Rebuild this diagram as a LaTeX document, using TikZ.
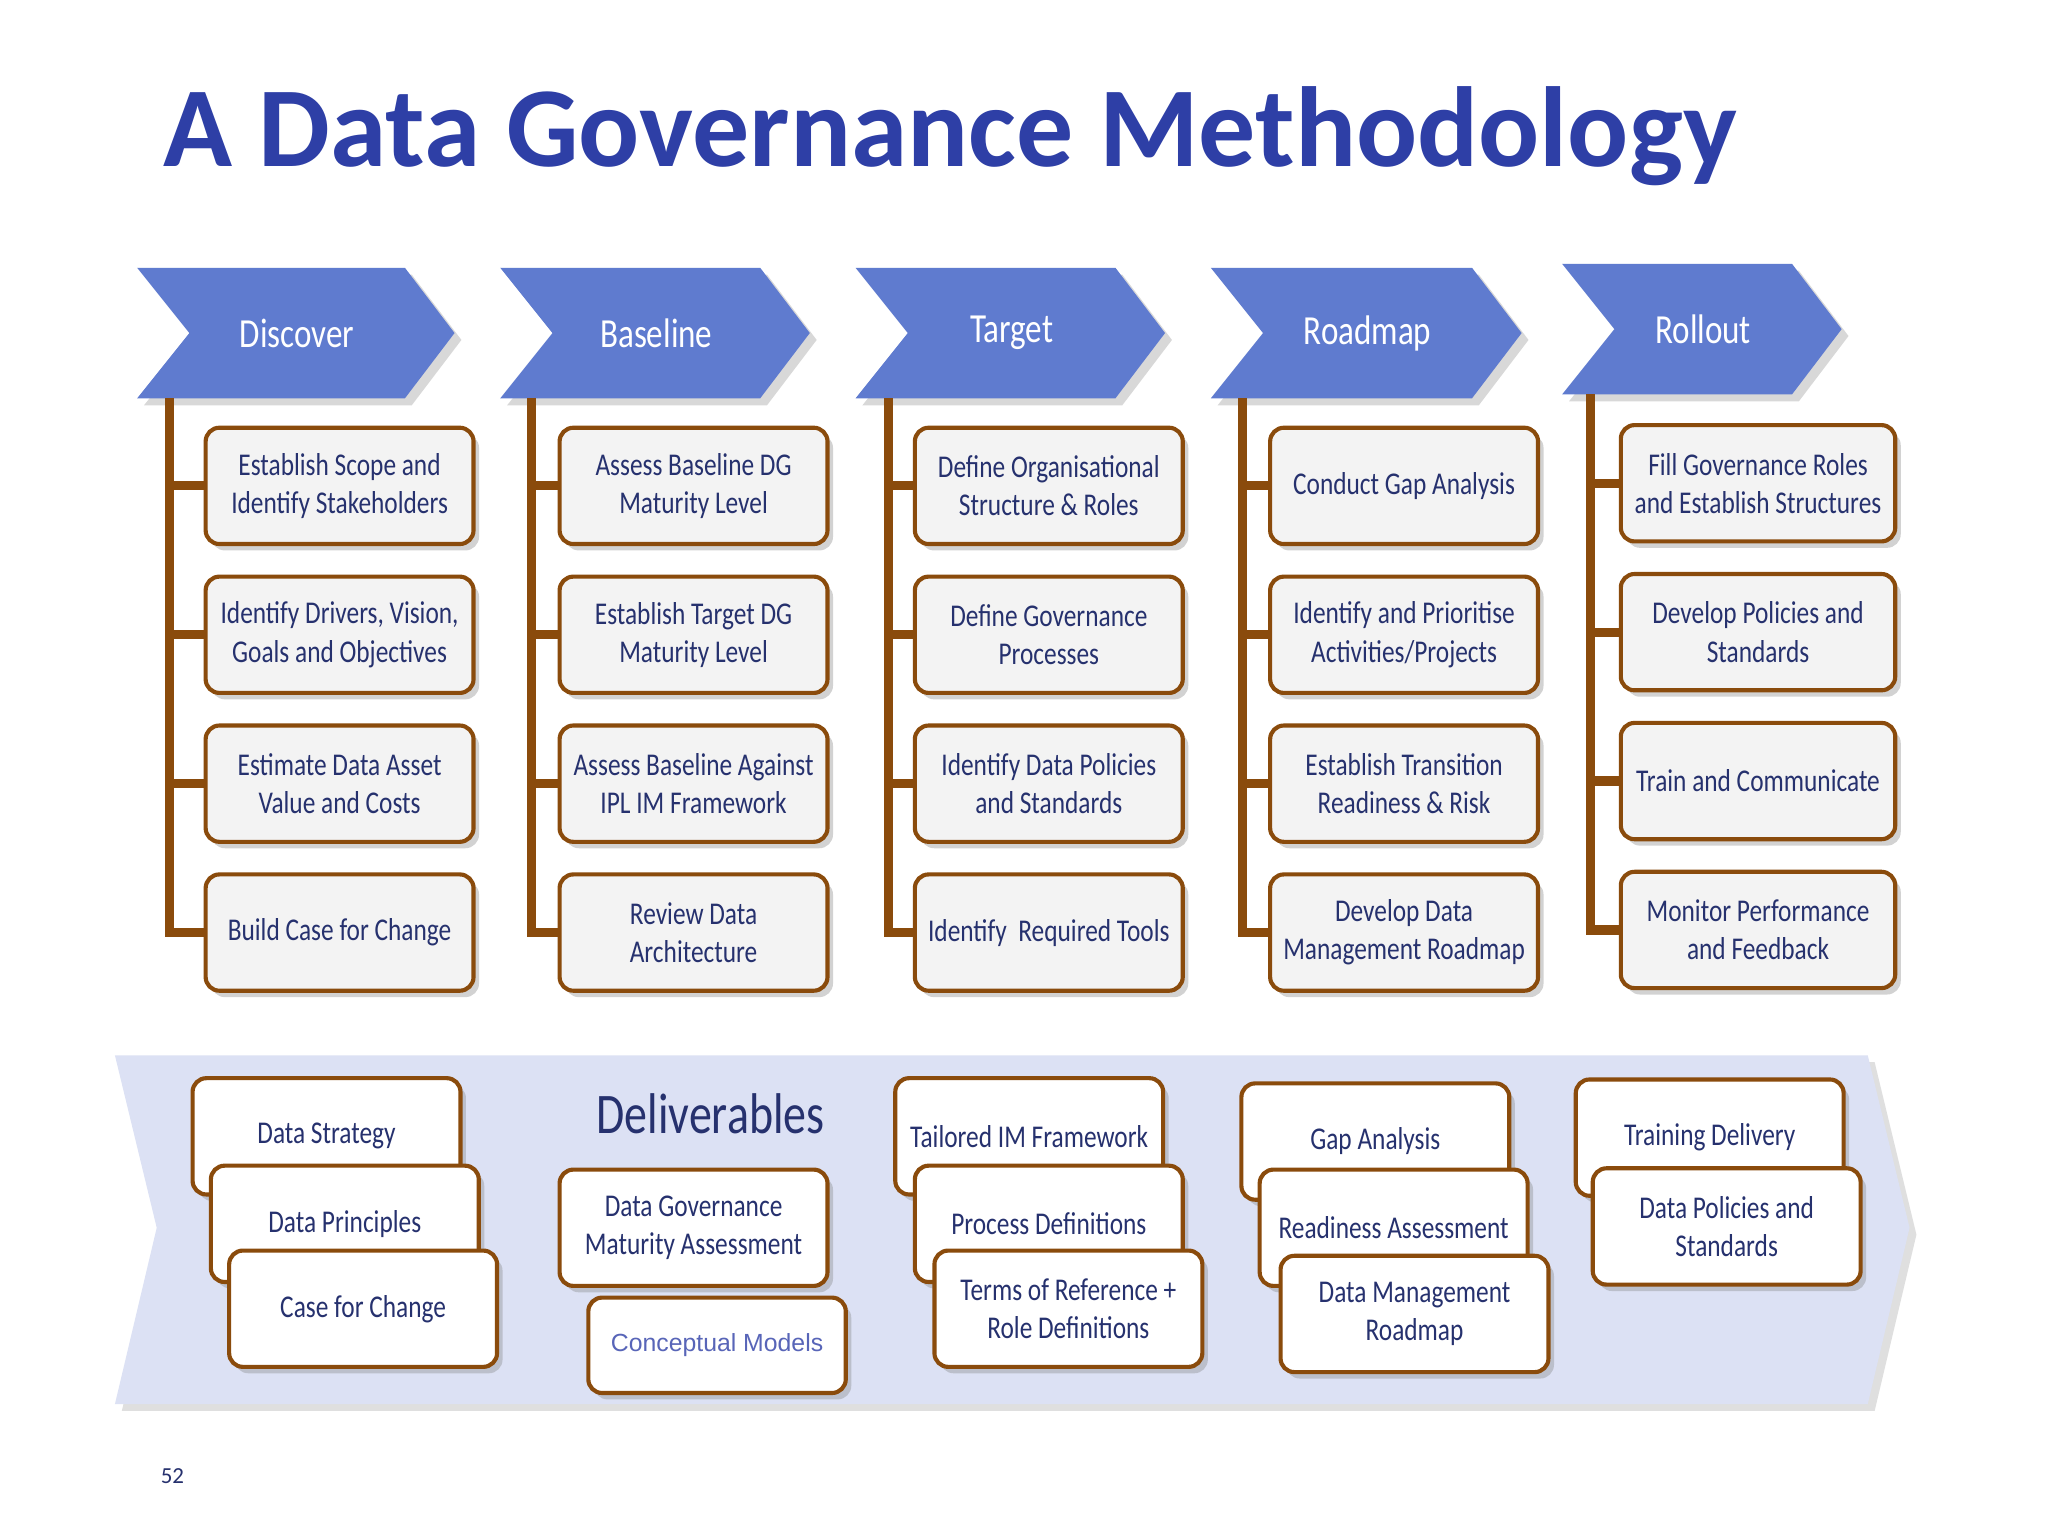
\documentclass[tikz,border=0pt]{standalone}
\usepackage{fontspec}
\setmainfont{Carlito}
\newfontfamily\cond[FakeStretch=0.8]{Carlito}
\newfontfamily\arialf{Liberation Sans}
\usetikzlibrary{shadows}
\definecolor{chev}{HTML}{5F7BCF}
\definecolor{brn}{HTML}{8A4B0C}
\definecolor{navy}{HTML}{26316E}
\definecolor{ttl}{HTML}{2E3FA6}
\definecolor{band}{HTML}{DCE1F4}
\definecolor{boxf}{HTML}{F3F3F3}
\tikzset{
 x=0.01cm,y=-0.01cm,
 act/.style={draw=brn,line width=0.9pt,rounded corners=3pt,fill=boxf,text=navy,align=center,
   font=\cond\fontsize{6.9}{8.3}\selectfont,minimum width=2.05cm,minimum height=0.89cm,inner sep=1pt,
   drop shadow={shadow xshift=1.2pt,shadow yshift=-1.4pt,opacity=0.35}},
 dlv/.style={act,fill=white},
 chevs/.style={fill=chev,drop shadow={shadow xshift=1.5pt,shadow yshift=-1.5pt,opacity=0.3}},
 stem/.style={draw=brn,line width=2pt},
}
\newcommand{\chevr}[4]{% x, y, body length, label
  \fill[chevs] (#1,#2) -- ++(#3,0) -- ++(38,50) -- ++(-38,50) -- ++(-#3,0) -- ++(40,-50) -- cycle;
  \node[text=white,font=\cond\fontsize{9}{11}\selectfont] at (#1+20+#3/2,#2+50) {#4};}
\begin{document}
\begin{tikzpicture}
\useasboundingbox[fill=white] (0,0) rectangle (1568,1176);
\node[anchor=west,text=ttl,font=\bfseries\fontsize{24.8}{29}\selectfont] (title) at (113,104) {A Data Governance Methodology};
% band
\fill[band,drop shadow={shadow xshift=1.5pt,shadow yshift=-1.5pt,opacity=0.25}] (88,808) -- (1430,808) -- (1462,940) -- (1430,1075) -- (88,1075) -- (120,940) -- cycle;
% chevrons
\chevr{105}{205}{205}{Discover}
\chevr{383}{205}{199}{Baseline}
\chevr{655}{205}{199}{Target}
\chevr{927}{205}{200}{Roadmap}
\chevr{1196}{202}{176}{Rollout}
% column 1
\coordinate (t1) at (130,305);
\node[act] (a1) at (260,372) {Establish Scope and\\Identify Stakeholders};
\node[act] (a2) at (260,486) {Identify Drivers, Vision,\\Goals and Objectives};
\node[act] (a3) at (260,600) {Estimate Data Asset\\Value and Costs};
\node[act] (a4) at (260,714) {Build Case for Change};
% column 2
\coordinate (t2) at (407,305);
\node[act] (b1) at (531,372) {Assess Baseline DG\\Maturity Level};
\node[act] (b2) at (531,486) {Establish Target DG\\Maturity Level};
\node[act] (b3) at (531,600) {Assess Baseline Against\\IPL IM Framework};
\node[act] (b4) at (531,714) {Review Data\\Architecture};
% column 3
\coordinate (t3) at (680,305);
\node[act] (c1) at (803,372) {Define Organisational\\Structure \& Roles};
\node[act] (c2) at (803,486) {Define Governance\\Processes};
\node[act] (c3) at (803,600) {Identify Data Policies\\and Standards};
\node[act] (c4) at (803,714) {Identify\ \ Required Tools};
% column 4
\coordinate (t4) at (951,305);
\node[act] (d1) at (1075,372) {Conduct Gap Analysis};
\node[act] (d2) at (1075,486) {Identify and Prioritise\\Activities/Projects};
\node[act] (d3) at (1075,600) {Establish Transition\\Readiness \& Risk};
\node[act] (d4) at (1075,714) {Develop Data\\Management Roadmap};
% column 5
\coordinate (t5) at (1218,302);
\node[act,minimum width=2.1cm] (e1) at (1346,370) {Fill Governance Roles\\and Establish Structures};
\node[act,minimum width=2.1cm] (e2) at (1346,484) {Develop Policies and\\Standards};
\node[act,minimum width=2.1cm] (e3) at (1346,598) {Train and Communicate};
\node[act,minimum width=2.1cm] (e4) at (1346,712) {Monitor Performance\\and Feedback};
% stems
\foreach \t/\p in {t1/a,t2/b,t3/c,t4/d,t5/e}{
  \draw[stem] (\t) |- (\p4.west);
  \foreach \i in {1,2,3}{\draw[stem] (\p\i.west) -- (\p\i.west -| \t);}
}
% deliverables
\node[text=navy,font=\cond\fontsize{12.5}{15}\selectfont] (dtitle) at (544,853) {Deliverables};
\node[dlv] (p1) at (250,870) {Data Strategy};
\node[dlv] (p2) at (264,937) {Data Principles};
\node[dlv] (p3) at (278,1002) {Case for Change};
\node[dlv] (q1) at (531,940) {Data Governance\\Maturity Assessment};
\node[dlv,minimum width=1.97cm,minimum height=0.73cm,text=ttl!80,font=\arialf\fontsize{5.4}{7}\selectfont] (q2) at (549,1030) {Conceptual Models};
\node[dlv] (r1) at (788,870) {Tailored IM Framework};
\node[dlv] (r2) at (803,937) {Process Definitions};
\node[dlv] (r3) at (818,1002) {Terms of Reference +\\Role Definitions};
\node[dlv] (s1) at (1053,874) {Gap Analysis};
\node[dlv] (s2) at (1067,940) {Readiness Assessment};
\node[dlv] (s3) at (1083,1006) {Data Management\\Roadmap};
\node[dlv] (u1) at (1309,871) {Training Delivery};
\node[dlv] (u2) at (1322,939) {Data Policies and\\Standards};
\node[text=navy,font=\fontsize{5}{6}\selectfont] (pg) at (132,1130) {52};
\end{tikzpicture}
\end{document}
